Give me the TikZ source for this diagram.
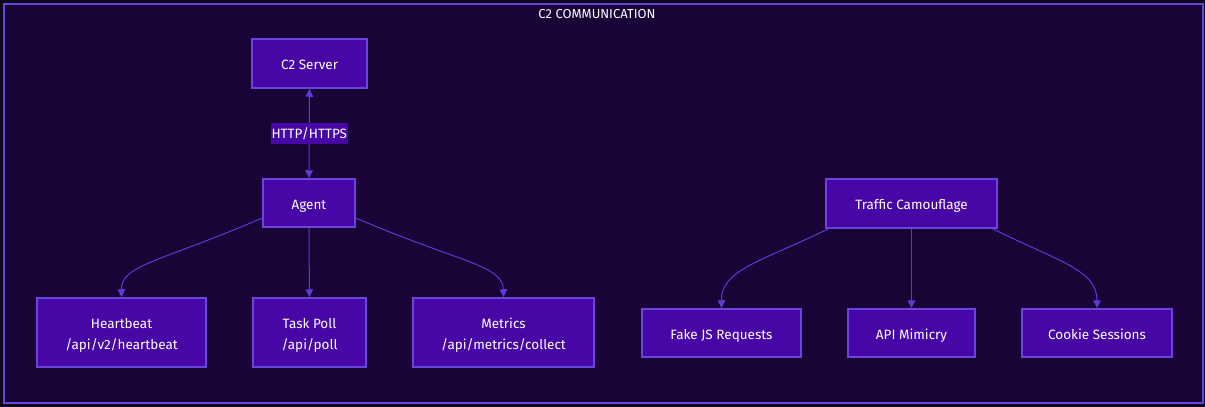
\documentclass[tikz,border=0pt]{standalone}
\usepackage{fontspec}
\setmainfont{Fira Sans}
\usetikzlibrary{arrows.meta}
\definecolor{outerbg}{HTML}{0E0A1C}
\definecolor{innerbg}{HTML}{190337}
\definecolor{nodefill}{HTML}{4707A6}
\definecolor{nodeborder}{HTML}{6A45DD}
\definecolor{edgecol}{HTML}{5C3BD6}
\definecolor{framecol}{HTML}{6445DE}
\newcommand{\topstrut}{\rule{0pt}{16pt}}
\tikzset{
  box/.style={draw=nodeborder, line width=1.5pt, fill=nodefill, text=white, font=\fontsize{13.5}{21}\selectfont, align=center, inner sep=0pt},
  onel/.style={box, text height=13pt, text depth=1pt},
  twol/.style={box},
  conn/.style={draw=edgecol, line width=1pt, -{Triangle[length=8pt,width=7.5pt]}},
  elabel/.style={fill=nodefill, text=white, font=\fontsize{13.5}{15}\selectfont, inner xsep=1pt, minimum height=21pt}
}
\begin{document}
\begin{tikzpicture}[x=1pt,y=-1pt]
\useasboundingbox (0,0) rectangle (1205,407);
\fill[outerbg] (0,0) rectangle (1205,407);
\draw[framecol, line width=2.5pt, fill=innerbg] (4,4) rectangle (1203,403);
\node[text=white, font=\fontsize{13}{15}\selectfont] (title) at (597,14) {C2 COMMUNICATION};

\node[onel, minimum width=115pt, minimum height=49pt] (srv) at (309.5,63.5) {C2 Server};
\node[onel, minimum width=92pt, minimum height=48pt] (agent) at (309,203) {Agent};
\node[twol, minimum width=169pt, minimum height=69pt] (hb) at (121.5,332.5) {\topstrut Heartbeat\\/api/v2/heartbeat};
\node[twol, minimum width=113pt, minimum height=69pt] (tp) at (309.5,332.5) {\topstrut Task Poll\\/api/poll};
\node[twol, minimum width=181pt, minimum height=69pt] (met) at (503.5,332.5) {\topstrut Metrics\\/api/metrics/collect};

\node[onel, minimum width=171pt, minimum height=49pt] (tc) at (911.5,203.5) {Traffic Camouflage};
\node[onel, minimum width=159pt, minimum height=48pt] (fjs) at (721.5,333) {Fake JS Requests};
\node[onel, minimum width=127pt, minimum height=48pt] (api) at (911.5,333) {API Mimicry};
\node[onel, minimum width=150pt, minimum height=48pt] (cook) at (1097,333) {Cookie Sessions};

\draw[conn, {Triangle[length=8pt,width=7.5pt]}-{Triangle[length=8pt,width=7.5pt]}] (srv) -- node[elabel] (lbl) {HTTP/HTTPS} (agent);

\draw[conn] (agent.south west |- 0,218) .. controls (160,262) and (121,265) .. (hb.north);
\draw[conn] (agent) -- (tp);
\draw[conn] (agent.south east |- 0,218) .. controls (458,262) and (503,265) .. (met.north);

\draw[conn] (828,229) .. controls (760,262) and (721,270) .. (fjs.north);
\draw[conn] (tc) -- (api);
\draw[conn] (993,229) .. controls (1060,262) and (1097,270) .. (cook.north);
\end{tikzpicture}
\end{document}
